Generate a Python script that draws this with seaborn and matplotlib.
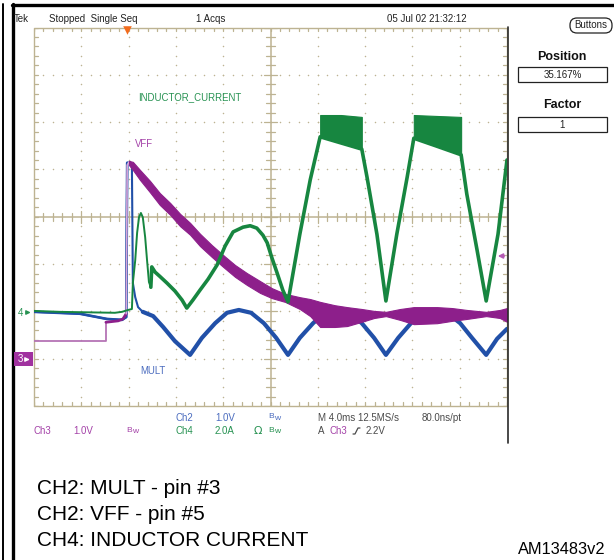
import numpy as np
import pandas as pd
import matplotlib
matplotlib.use("Agg")
import matplotlib.pyplot as plt
import seaborn as sns
from matplotlib import font_manager
from matplotlib.patches import Rectangle, FancyBboxPatch

# ---------------- data (screen divisions: time 0..10 div, level -4..4 div) -------------
# CH2 : MULT (blue)
mult_t = [0.00, 0.97, 1.54, 1.86, 1.95, 1.97, 2.03, 2.07, 2.09, 2.14, 2.20, 2.30,
          2.52, 2.73, 2.98, 3.30,
          3.55, 3.83, 4.08, 4.33, 4.59, 4.86, 5.12, 5.37,
          5.62, 5.90, 6.15, 6.41, 6.66, 6.93, 7.19, 7.44,
          7.70, 7.97, 8.22, 8.48, 8.73, 9.01, 9.26, 9.56,
          9.79, 10.00]
mult_v = [-2.01, -2.05, -2.16, -2.18, -2.12, 1.14, 1.16, 1.07, -1.40, -1.70, -1.91, -2.01,
          -2.10, -2.33, -2.63, -2.92,
          -2.56, -2.25, -2.03, -1.97, -2.03, -2.25, -2.56, -2.92,
          -2.56, -2.25, -2.03, -1.97, -2.03, -2.25, -2.56, -2.92,
          -2.56, -2.25, -2.03, -1.97, -2.03, -2.25, -2.56, -2.92,
          -2.58, -2.37]

# CH3 : VFF (purple) - pre-trigger trace and post-trigger ripple envelope
vff_pre_t = [0.00, 1.52, 1.52, 1.78, 1.88, 1.95, 1.97, 2.01]
vff_pre_v = [-2.63, -2.63, -2.23, -2.20, -2.16, -2.05, 1.09, 1.16]
vff_t = [2.01, 2.09, 2.24, 2.45, 2.66, 2.88, 3.09, 3.30, 3.51, 3.76, 4.00, 4.25, 4.50,
         4.78, 5.03, 5.31, 5.62, 5.84,
         6.05, 6.36, 6.62, 6.93, 7.19, 7.44, 7.74, 8.03, 8.52, 8.84, 9.15, 9.56, 9.85, 10.00]
vff_hi = [1.18, 1.16, 0.99, 0.76, 0.50, 0.29, 0.06, -0.13, -0.36, -0.60, -0.81, -1.02, -1.19,
          -1.36, -1.51, -1.63, -1.70, -1.74,
          -1.80, -1.87, -1.91, -1.95, -1.99, -2.01, -1.95, -1.91, -1.91, -1.93, -1.97, -2.01, -1.97, -1.93]
vff_lo = [1.09, 0.99, 0.78, 0.52, 0.25, 0.04, -0.20, -0.38, -0.62, -0.85, -1.06, -1.27, -1.44,
          -1.61, -1.72, -1.80, -1.95, -2.10,
          -2.33, -2.33, -2.31, -2.22, -2.14, -2.10, -2.18, -2.27, -2.25, -2.20, -2.16, -2.10, -2.14, -2.22]

# CH4 : INDUCTOR CURRENT (green)
il_t = [0.00, 0.55, 1.71, 1.86, 1.99, 2.07, 2.09, 2.14, 2.18, 2.22, 2.26, 2.30, 2.35, 2.39,
        2.43, 2.47, 2.49, 2.56, 2.66, 2.81, 2.98, 3.13, 3.23, 3.36, 3.51, 3.68, 3.87, 4.04,
        4.21, 4.42, 4.57, 4.71, 4.84, 4.93, 5.03, 5.14, 5.26, 5.37,
        5.62, 5.84, 6.05, 6.49, 6.93, 7.04, 7.25, 7.44, 7.67, 7.89, 8.03, 8.52,
        9.03, 9.15, 9.37, 9.56, 9.81, 10.00]
il_v = [-1.99, -2.01, -2.03, -2.01, -1.97, -1.95, -1.40, -0.92, -0.34, -0.01, 0.08, -0.01, -0.43, -0.92,
        -1.38, -1.49, -1.06, -1.17, -1.26, -1.40, -1.57, -1.76, -1.93, -1.76, -1.55, -1.32, -1.02, -0.62,
        -0.32, -0.22, -0.19, -0.24, -0.39, -0.55, -0.87, -1.19, -1.55, -1.80,
        -0.37, 0.78, 1.69, 1.56, 1.43, 0.84, -0.37, -1.78, -0.37, 0.84, 1.66, 1.49,
        1.31, 0.48, -0.72, -1.78, -0.37, 1.20]
il_hump1_t = [6.05, 6.49, 6.93]
il_hump1_hi = [2.15, 2.15, 2.11]
il_hump1_lo = [1.69, 1.56, 1.43]
il_hump2_t = [8.03, 8.52, 9.03]
il_hump2_hi = [2.15, 2.13, 2.11]
il_hump2_lo = [1.66, 1.49, 1.31]

# ---------------- style ----------------
sns.set_style("white")
installed = {f.name for f in font_manager.fontManager.ttflist}
NARROW = "Liberation Sans Narrow" if "Liberation Sans Narrow" in installed else "Liberation Sans"
NSCALE = 1.0 if NARROW == "Liberation Sans Narrow" else 0.85
plt.rcParams["font.family"] = ["Liberation Sans", "DejaVu Sans"]

GREEN = "#178640"
BLUE = "#2150a8"
PURPLE = "#8d1f8b"
GRAT = "#bdb392"
TXT_BLUE = "#4b6cbf"
TXT_PURPLE = "#a442a8"
TXT_GREEN = "#279252"
GRAY = "#4a4a4a"

W, H = 614, 560
fig = plt.figure(figsize=(W / 100, H / 100), dpi=100)
fig.patch.set_facecolor("white")

# graticule area in pixels
GL, GR, GT, GB = 34, 507, 27.5, 406
ax = fig.add_axes([GL / W, 1 - GB / H, (GR - GL) / W, (GB - GT) / H])
ax.set_xlim(0, 10)
ax.set_ylim(-4, 4)
ax.axis("off")

# ---- graticule ----
ax.plot([0, 10, 10, 0, 0], [-4, -4, 4, 4, -4], color=GRAT, lw=1.0, zorder=1, clip_on=False)
ax.axhline(0, color=GRAT, lw=1.1, zorder=1)
ax.axvline(5, color=GRAT, lw=1.1, zorder=1)
minor = np.round(np.arange(0, 10.001, 0.2), 2)
minor_y = np.round(np.arange(-4, 4.001, 0.2), 2)
tl = 0.075
for x in minor:
    ax.plot([x, x], [4, 4 - tl], color=GRAT, lw=0.9, zorder=1)
    ax.plot([x, x], [-4, -4 + tl], color=GRAT, lw=0.9, zorder=1)
    big = abs(x - round(x)) < 1e-6
    h = 0.13 if big else 0.085
    ax.plot([x, x], [-h, h], color=GRAT, lw=0.9, zorder=1)
for y in minor_y:
    ax.plot([0, tl], [y, y], color=GRAT, lw=0.9, zorder=1)
    ax.plot([10, 10 - tl], [y, y], color=GRAT, lw=0.9, zorder=1)
    big = abs(y - round(y)) < 1e-6
    h = 0.13 if big else 0.085
    ax.plot([5 - h, 5 + h], [y, y], color=GRAT, lw=0.9, zorder=1)
dots_x, dots_y = [], []
for gx in [1, 2, 3, 4, 6, 7, 8, 9]:
    for y in minor_y[1:-1]:
        dots_x.append(gx); dots_y.append(y)
for gy in [-3, -2, -1, 1, 2, 3]:
    for x in minor[1:-1]:
        dots_x.append(x); dots_y.append(gy)
ax.scatter(dots_x, dots_y, s=1.2, color=GRAT, linewidths=0, zorder=1)

# ---- traces ----
def line(t, v, color, lw, z, sl=slice(None)):
    d = pd.DataFrame({"t": t[sl], "v": v[sl]})
    sns.lineplot(data=d, x="t", y="v", ax=ax, color=color, lw=lw, estimator=None,
                 sort=False, zorder=z, solid_joinstyle="round", solid_capstyle="round")

# MULT
line(mult_t, mult_v, BLUE, 1.5, 3)
line(mult_t, mult_v, BLUE, 1.9, 3, slice(0, 6))
line(mult_t, mult_v, BLUE, 3.0, 3, slice(11, None))

# VFF
line(vff_pre_t, vff_pre_v, "#b574b5", 1.3, 4, slice(0, 3))
line(vff_pre_t, vff_pre_v, PURPLE, 2.0, 4, slice(2, 6))
line(vff_pre_t, vff_pre_v, "#d9a6d9", 1.2, 4, slice(5, None))
ax.fill_between(vff_t, vff_lo, vff_hi, color=PURPLE, lw=0.8, edgecolor=PURPLE, zorder=4)

# INDUCTOR CURRENT
line(il_t, il_v, GREEN, 1.4, 5, slice(0, 16))
line(il_t, il_v, GREEN, 2.6, 5, slice(15, None))
ax.fill_between(il_hump1_t, il_hump1_lo, il_hump1_hi, color=GREEN, lw=0.8, edgecolor=GREEN, zorder=5)
ax.fill_between(il_hump2_t, il_hump2_lo, il_hump2_hi, color=GREEN, lw=0.8, edgecolor=GREEN, zorder=5)
ax.set_xlabel(""); ax.set_ylabel("")
ax.set_xlim(0, 10); ax.set_ylim(-4, 4)

# trace labels
ax.text((138 - GL) / 47.3, (216.75 - 97) / 47.3, "INDUCTOR_CURRENT", color=TXT_GREEN,
        fontsize=8.2 * NSCALE, family=NARROW, va="center", ha="left", zorder=6)
ax.text((135 - GL) / 47.3, (216.75 - 144) / 47.3, "VFF", color=TXT_PURPLE,
        fontsize=8.2 * NSCALE, family=NARROW, va="center", ha="left", zorder=6)
ax.text((140 - GL) / 47.3, (216.75 - 371) / 47.3, "MULT", color=TXT_BLUE,
        fontsize=8.2 * NSCALE, family=NARROW, va="center", ha="left", zorder=6)

# ---------------- overlay (screen furniture, pixel coords) ----------------
ov = fig.add_axes([0, 0, 1, 1], zorder=10)
ov.set_xlim(0, W); ov.set_ylim(H, 0)
ov.axis("off")
ov.patch.set_alpha(0)

# black frame lines
ov.plot([3, 3], [4, H], color="black", lw=1.4)
ov.plot([13, 13], [3.5, H], color="black", lw=2.4)
ov.plot([12, W], [5, 5], color="black", lw=2.4)
ov.plot([507.5, 507.5], [27, 443], color="#2a2a2a", lw=1.2)

def stxt(x, y, s, color=GRAY, size=8.3, **kw):
    ov.text(x, y, s, color=color, fontsize=size * NSCALE, family=NARROW,
            va="center", ha=kw.pop("ha", "left"), **kw)

# header
stxt(14, 19.5, "Tek", "#222222")
stxt(49, 19.5, "Stopped  Single Seq", "#222222")
stxt(196, 19.5, "1 Acqs", "#222222")
stxt(387, 19.5, "05 Jul 02 21:32:12", "#222222")

# trigger position marker
ov.scatter([127], [30], marker="v", s=38, color="#f26b1d", linewidths=0, zorder=12)

# channel ground markers
stxt(20, 312.5, "4", TXT_GREEN, ha="center")
ov.annotate("", xy=(33.5, 312.5), xytext=(24, 312.5),
            arrowprops=dict(arrowstyle="-|>", color=TXT_GREEN, lw=1.0, mutation_scale=6))
ov.add_patch(Rectangle((14, 352), 19, 14, facecolor="#a0329f", edgecolor="none", zorder=11))
ov.text(20, 359.5, "3", color="white", fontsize=8.3 * NSCALE, family=NARROW,
        va="center", ha="center", zorder=12)
ov.annotate("", xy=(32.5, 359.5), xytext=(24, 359.5),
            arrowprops=dict(arrowstyle="-|>", color="white", lw=1.0, mutation_scale=6), zorder=12)
# trigger level marker
ov.annotate("", xy=(495, 256), xytext=(507, 256),
            arrowprops=dict(arrowstyle="-|>", color="#b45ab4", lw=1.2, mutation_scale=7))

# readout rows
r1, r2 = 418, 431
stxt(175, r1, "Ch2", TXT_BLUE)
stxt(215, r1, "1.0V", TXT_BLUE)
stxt(268, r1 - 1, "B", TXT_BLUE, size=7.2)
stxt(274, r1 + 0.5, "w", TXT_BLUE, size=7.2)
stxt(318, r1, "M 4.0ms 12.5MS/s", GRAY)
stxt(422, r1, "80.0ns/pt", GRAY)

stxt(33, r2, "Ch3", TXT_PURPLE)
stxt(73, r2, "1.0V", TXT_PURPLE)
stxt(126, r2 - 1, "B", TXT_PURPLE, size=7.2)
stxt(132, r2 + 0.5, "w", TXT_PURPLE, size=7.2)
stxt(175, r2, "Ch4", TXT_GREEN)
stxt(215, r2, "2.0A", TXT_GREEN)
ov.text(254, r2, "Ω", color=TXT_GREEN, fontsize=8.0, family="DejaVu Sans", va="center", ha="left")
stxt(268, r2 - 1, "B", TXT_GREEN, size=7.2)
stxt(274, r2 + 0.5, "w", TXT_GREEN, size=7.2)
stxt(318, r2, "A", GRAY)
stxt(329, r2, "Ch3", TXT_PURPLE)
ov.plot([353, 355, 358, 360], [434, 434, 428, 428], color=GRAY, lw=0.9)
stxt(366, r2, "2.2V", GRAY)

# right-hand menu
ov.add_patch(FancyBboxPatch((570, 18), 42, 15, boxstyle="round,pad=0,rounding_size=7",
                            facecolor="white", edgecolor="#222222", lw=0.9))
stxt(591, 25.5, "Buttons", "#222222", ha="center")
ov.text(562, 57, "Position", color="#111111", fontsize=9, weight="bold",
        va="center", ha="center")
ov.add_patch(Rectangle((518, 67), 89, 15, facecolor="white", edgecolor="#222222", lw=0.9))
stxt(562.5, 74.5, "35.167%", "#222222", ha="center")
ov.text(562, 105, "Factor", color="#111111", fontsize=9, weight="bold",
        va="center", ha="center")
ov.add_patch(Rectangle((518, 117), 89, 15, facecolor="white", edgecolor="#222222", lw=0.9))
stxt(562.5, 124.5, "1", "#222222", ha="center")

# caption
for yy, s in [(489, "CH2: MULT - pin #3"), (514.5, "CH2: VFF - pin #5"),
              (540, "CH4: INDUCTOR CURRENT")]:
    ov.text(37, yy, s, color="black", fontsize=15, va="center", ha="left")
ov.text(518, 549, "AM13483v2", color="black", fontsize=11.8, va="center", ha="left")

fig.savefig("out.png", dpi=100, facecolor="white")
